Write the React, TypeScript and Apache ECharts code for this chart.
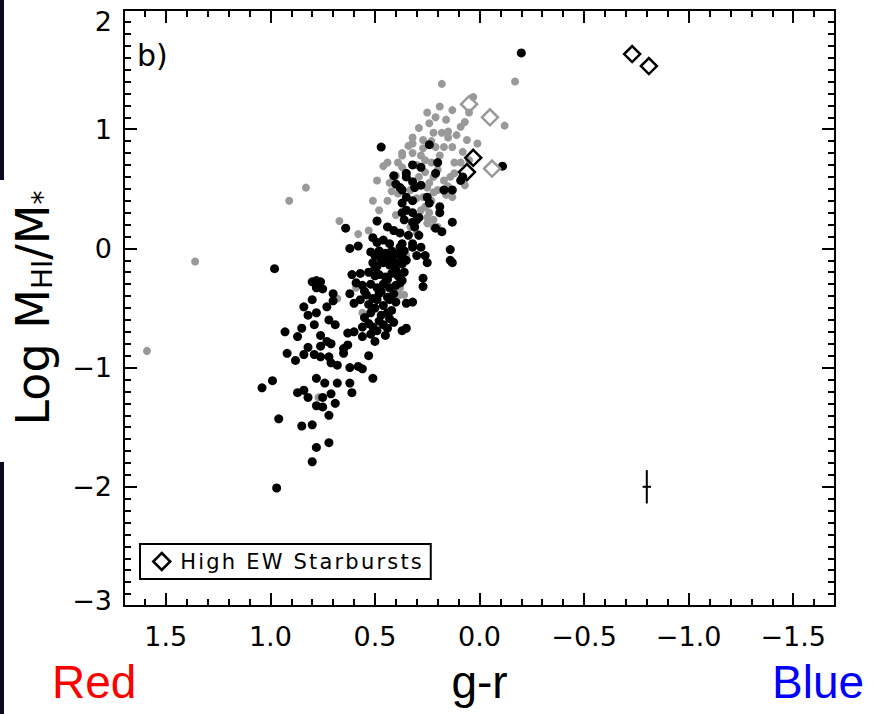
import React, { useEffect, useRef } from 'react';
import * as echarts from 'echarts';

const FONT = "'DejaVu Sans', Verdana, sans-serif";
const FONT2 = "'Liberation Sans', Arial, sans-serif";

// axis ranges (g-r runs red -> blue, so the axis is inverted)
const xMin = -1.7;
const xMax = 1.7;
const yMin = -3;
const yMax = 2;

// [g-r, log MHI/M*] : grey sample
const grayPoints: number[][] = [
  [1.59, -0.86], [1.36, -0.11], [0.91, 0.40], [0.83, 0.51], [0.67, 0.23], [0.49, 0.57], [0.51, 0.40],
  [0.44, 0.72], [0.44, 0.40], [0.53, 0.15], [0.43, 0.55], [0.39, 0.72], [0.37, 0.78], [0.32, 0.93],
  [0.32, 0.88], [0.27, 0.84], [0.25, 1.14], [0.24, 1.05], [0.21, 1.10], [0.19, 1.19], [0.18, 1.38],
  [0.22, 0.97], [0.18, 0.97], [0.15, 0.98], [0.15, 0.93], [0.21, 0.85], [0.17, 0.85], [0.13, 0.85],
  [0.09, 1.02], [0.07, 1.06], [0.05, 1.14], [0.03, 1.27], [0.01, 0.88], [-0.12, 1.03], [-0.17, 1.40],
  [0.08, 0.81], [0.37, 0.80], [0.32, 0.80], [0.26, 0.74], [0.23, 0.72], [0.26, 0.64], [0.22, 0.60],
  [0.17, 0.57], [0.14, 0.60], [0.09, 0.72], [0.07, 0.53], [0.09, 0.57], [0.25, 0.51], [0.22, 0.47],
  [0.23, 0.40], [0.16, 0.45], [0.13, 0.43], [0.26, 0.35], [0.24, 0.30], [0.25, 0.21], [0.22, 0.18],
  [0.37, 0.68], [0.35, 0.63], [0.38, -0.39], [0.36, -0.39], [0.59, -0.33], [0.68, -0.42], [0.38, -0.33],
  [0.56, -0.54], [0.77, -1.25], [0.35, -0.06], [0.39, 0.46], [0.33, 0.49], [0.29, 0.60], [0.27, 0.43],
  [0.28, 0.32], [0.25, 0.26], [0.20, 0.49], [0.33, 0.18], [0.30, 0.13], [0.22, 0.24], [0.20, 0.18],
  [0.27, 0.91], [0.16, 1.08], [0.29, 1.01], [0.13, 1.16], [0.40, 0.61], [0.46, 0.69], [0.48, 0.32],
  [0.40, 0.28], [0.58, 0.12], [0.12, 0.72], [0.05, 0.74], [0.06, 0.91], [0.59, -0.28],
  [0.30, 0.70], [0.28, 0.78], [0.34, 0.86], [0.23, 0.90], [0.19, 0.78], [0.12, 0.63], [0.15, 0.52],
  [0.30, 0.42], [0.42, 0.48], [0.20, 0.66], [0.11, 0.95], [0.24, 0.55],
];

// [g-r, log MHI/M*] : black sample
const blackPoints: number[][] = [
  [0.98, -0.17], [1.04, -1.17], [0.99, -1.11], [0.96, -1.43], [0.97, -2.01], [0.93, -0.70], [0.92, -0.88],
  [0.88, -0.94], [0.87, -0.74], [0.87, -1.21], [0.85, -1.49], [0.85, -0.67], [0.84, -0.89], [0.84, -0.49],
  [0.84, -1.19], [0.82, -0.56], [0.82, -1.25], [0.82, -0.83], [0.80, -0.43], [0.80, -1.48], [0.80, -1.79],
  [0.80, -0.28], [0.79, -0.64], [0.78, -0.54], [0.78, -1.32], [0.78, -1.67], [0.78, -1.09], [0.76, -0.28],
  [0.76, -0.82], [0.75, -1.33], [0.75, -0.34], [0.74, -1.13], [0.73, -0.49], [0.73, -0.78], [0.72, -0.60],
  [0.72, -1.40], [0.72, -1.63], [0.71, -0.80], [0.70, -0.38], [0.70, -0.44], [0.69, -0.64], [0.69, -1.30],
  [0.68, -1.13], [0.62, -1.13], [0.61, -1.21], [0.62, -1.00], [0.58, -0.99], [0.56, -1.01], [0.53, -0.90],
  [0.51, -1.09], [0.76, -0.73], [0.68, -0.98], [0.72, -0.91], [0.71, -0.96], [0.76, -0.91], [0.79, -0.89],
  [0.75, -1.25], [0.71, -1.22], [0.65, -0.88], [0.63, -0.81], [0.65, -0.84], [0.63, -0.71], [0.60, -0.70],
  [0.56, -0.74], [0.60, -0.46], [0.57, -0.43], [0.62, -0.38], [0.61, -0.22], [0.57, -0.21], [0.59, -0.29],
  [0.56, -0.31], [0.51, -0.42], [0.49, -0.43], [0.52, -0.54], [0.53, -0.63], [0.51, -0.66], [0.49, -0.69],
  [0.56, -0.66], [0.78, -0.27], [0.78, -0.33],
  [0.52, -0.03], [0.50, -0.06], [0.48, -0.02], [0.45, -0.04], [0.42, -0.02], [0.39, -0.05], [0.36, -0.02],
  [0.51, -0.12], [0.49, -0.15], [0.46, -0.12], [0.43, -0.14], [0.40, -0.12], [0.37, -0.13], [0.53, -0.20],
  [0.50, -0.23], [0.48, -0.22], [0.45, -0.24], [0.42, -0.21], [0.39, -0.23], [0.36, -0.20], [0.52, -0.30],
  [0.49, -0.33], [0.46, -0.30], [0.43, -0.33], [0.40, -0.31], [0.38, -0.29], [0.54, -0.39], [0.48, -0.38],
  [0.44, -0.41], [0.41, -0.38], [0.46, -0.48], [0.43, -0.43], [0.40, -0.45], [0.44, -0.54], [0.48, -0.61],
  [0.43, -0.59], [0.44, -0.67], [0.37, -0.69], [0.35, -0.67], [0.35, -0.46], [0.32, -0.45],
  [0.55, -0.36], [0.53, -0.47], [0.55, -0.58], [0.50, -0.50], [0.47, -0.56], [0.46, -0.64], [0.42, -0.52],
  [0.41, -0.62], [0.45, -0.73], [0.50, -0.78], [0.52, -0.72], [0.47, -0.36], [0.44, -0.26], [0.40, -0.18],
  [0.47, -0.09], [0.42, -0.08], [0.50, -0.16],
  [0.24, 0.87], [0.20, 0.72], [0.32, 0.70], [0.28, 0.68], [0.21, 0.63], [0.35, 0.60], [0.38, 0.51],
  [0.32, 0.56], [0.31, 0.51], [0.28, 0.53], [0.17, 0.49], [0.13, 0.49], [0.09, 0.57], [-0.11, 0.69],
  [0.08, 0.60], [0.35, 0.43], [0.32, 0.40], [0.37, 0.38], [0.25, 0.43], [0.24, 0.38], [0.19, 0.35],
  [0.19, 0.30], [0.35, 0.32], [0.32, 0.30], [0.29, 0.26], [0.36, 0.24], [0.32, 0.22], [0.31, 0.18],
  [0.13, 0.22], [0.21, 0.17], [0.18, 0.14], [0.38, 0.13], [0.34, 0.11], [0.29, 0.11], [0.32, 0.01],
  [0.37, 0.04], [0.14, -0.01], [0.14, -0.10], [0.13, -0.12], [0.30, -0.06], [0.26, -0.06], [0.25, -0.12],
  [0.37, -0.07], [0.35, -0.10], [0.27, -0.25], [0.27, -0.32], [0.37, -0.27], [0.47, 0.85], [0.41, 0.61],
  [0.40, 0.54], [0.35, 0.63], [0.37, 0.49], [0.37, 0.30], [0.30, 0.24], [0.49, 0.23], [0.64, 0.17],
  [0.62, 0.00], [0.58, 0.02], [0.51, 0.09], [0.49, 0.05], [0.44, 0.18], [0.41, 0.15], [0.46, 0.07],
  [0.43, 0.04], [0.44, -0.07], [0.38, 0.01], [0.32, 0.04], [0.28, 0.01], [-0.20, 1.64],
];

// High EW starbursts
const grayDiamonds: number[][] = [[0.05, 1.21], [-0.05, 1.10], [-0.06, 0.67]];
const blackDiamonds: number[][] = [[-0.73, 1.63], [-0.81, 1.53], [0.03, 0.76], [0.06, 0.64]];

// typical error bar: [x, y, xErr, yErr]
const errorBar: number[][] = [[-0.8, -2.0, 0.02, 0.14]];

const legendLabel = 'High EW Starbursts';
const panelLabel = 'b)';
const xTitle = 'g-r';
const redLabel = 'Red';
const blueLabel = 'Blue';

function fmt(v: number, digits: number): string {
  const s = Math.abs(v).toFixed(digits);
  return v < -1e-9 ? '\u2212' + s : s;
}

export default function App() {
  const ref = useRef<HTMLDivElement>(null);

  useEffect(() => {
    document.body.style.margin = '0';
    const chart = echarts.init(ref.current as HTMLDivElement, null, { renderer: 'svg', width: 883, height: 714 });

    const line = { color: '#000', width: 2 };
    const axisBase = (extra: any) => ({
      type: 'value',
      axisLine: { show: true, onZero: false, lineStyle: line },
      axisTick: { show: true, inside: true, length: 13, lineStyle: line },
      minorTick: { show: true, length: 7, lineStyle: line },
      splitLine: { show: false },
      minorSplitLine: { show: false },
      ...extra,
    });

    const xCommon = {
      min: xMin,
      max: xMax,
      inverse: true,
      splitNumber: 7,
    };

    const tickFont = { fontSize: 27, fontFamily: FONT, color: '#000' };

    const option: any = {
      animation: false,
      backgroundColor: '#fff',
      grid: { left: 124, right: 48, top: 10, bottom: 108, containLabel: false, outerBoundsMode: 'none' },
      xAxis: [
        axisBase({
          ...xCommon,
          position: 'bottom',
          minorTick: { show: true, splitNumber: 5, length: 7, lineStyle: line },
          axisLabel: {
            show: true,
            margin: 17,
            ...tickFont,
            showMinLabel: false,
            showMaxLabel: false,
            formatter: (v: number) => fmt(v, 1),
          },
          name: xTitle,
          nameLocation: 'middle',
          nameGap: 53,
          nameTextStyle: { fontSize: 46, color: '#000', fontFamily: FONT2 },
        }),
        axisBase({
          ...xCommon,
          position: 'top',
          minorTick: { show: true, splitNumber: 5, length: 7, lineStyle: line },
          axisLabel: { show: false },
        }),
      ],
      yAxis: [
        axisBase({
          min: yMin,
          max: yMax,
          interval: 1,
          position: 'left',
          minorTick: { show: true, splitNumber: 10, length: 7, lineStyle: line },
          axisLabel: {
            show: true,
            margin: 12,
            ...tickFont,
            formatter: (v: number) => {
              if (v >= yMax) return '{t|' + fmt(v, 0) + '}';
              if (v <= yMin) return '{b|' + fmt(v, 0) + '}';
              return fmt(v, 0);
            },
            rich: {
              t: { ...tickFont, padding: [22, 0, 0, 0] },
              b: { ...tickFont, padding: [0, 0, 12, 0] },
            },
          },
          name: '{m|Log M}{s|HI}{m|/M}{s|*}',
          nameLocation: 'middle',
          nameRotate: 90,
          nameGap: 68,
          nameTextStyle: {
            color: '#000',
            rich: {
              m: { fontSize: 46, fontFamily: FONT, color: '#000' },
              s: { fontSize: 28, fontFamily: FONT, color: '#000', verticalAlign: 'bottom' },
            },
          },
        }),
        axisBase({
          min: yMin,
          max: yMax,
          interval: 1,
          position: 'right',
          minorTick: { show: true, splitNumber: 10, length: 7, lineStyle: line },
          axisLabel: { show: false },
        }),
      ],
      legend: {
        show: true,
        left: 140,
        top: 544,
        orient: 'horizontal',
        data: [legendLabel],
        selectedMode: false,
        itemWidth: 17,
        itemHeight: 17,
        padding: [7, 9, 7, 12],
        borderColor: '#000',
        borderWidth: 2,
        borderRadius: 0,
        backgroundColor: '#fff',
        icon: 'diamond',
        itemStyle: { color: 'rgba(0,0,0,0)', borderColor: '#000', borderWidth: 2.5 },
        formatter: (name: string) =>
          name
            .split('')
            .map((ch, i) => `{${i === 0 ? 'f' : 'c'}|${ch}}`)
            .join(''),
        textStyle: {
          color: '#000',
          fontSize: 21,
          fontFamily: FONT,
          rich: {
            f: { fontSize: 21, fontFamily: FONT, color: '#000', padding: [0, 1.1, 0, 5] },
            c: { fontSize: 21, fontFamily: FONT, color: '#000', padding: [0, 1.1, 0, 1.1] },
          },
        },
      },
      graphic: [
        { type: 'rect', left: 0, top: 0, shape: { width: 4, height: 180 }, style: { fill: '#0a0b1f' }, silent: true },
        { type: 'rect', left: 0, top: 462, shape: { width: 4, height: 252 }, style: { fill: '#0a0b1f' }, silent: true },
        {
          type: 'text',
          left: 137,
          top: 40,
          style: { text: panelLabel, fontSize: 30, fontFamily: FONT, fill: '#000' },
          silent: true,
        },
        {
          type: 'text',
          left: 52,
          top: 659,
          style: { text: redLabel, fontSize: 46, fontFamily: FONT2, fill: '#ff0000' },
          silent: true,
        },
        {
          type: 'text',
          left: 772,
          top: 659,
          style: { text: blueLabel, fontSize: 46, fontFamily: FONT2, fill: '#0000ff' },
          silent: true,
        },
      ],
      series: [
        {
          name: 'grey',
          type: 'scatter',
          data: grayPoints,
          symbol: 'circle',
          symbolSize: 8,
          itemStyle: { color: '#999999', opacity: 1 },
          silent: true,
          z: 2,
        },
        {
          name: 'black',
          type: 'scatter',
          data: blackPoints,
          symbol: 'circle',
          symbolSize: 9,
          itemStyle: { color: '#000000', opacity: 1 },
          silent: true,
          z: 3,
        },
        {
          name: 'grey starbursts',
          type: 'scatter',
          data: grayDiamonds,
          symbol: 'diamond',
          symbolSize: 16,
          itemStyle: { color: 'rgba(0,0,0,0)', borderColor: '#999999', borderWidth: 2.5, opacity: 1 },
          silent: true,
          z: 4,
        },
        {
          name: legendLabel,
          type: 'scatter',
          data: blackDiamonds,
          symbol: 'diamond',
          symbolSize: 16,
          itemStyle: { color: 'rgba(0,0,0,0)', borderColor: '#000000', borderWidth: 2.5, opacity: 1 },
          silent: true,
          z: 5,
        },
        {
          name: 'error',
          type: 'custom',
          data: errorBar,
          encode: { x: 0, y: 1 },
          silent: true,
          clip: false,
          z: 5,
          renderItem: (_params: any, api: any) => {
            const x = api.value(0);
            const y = api.value(1);
            const ex = api.value(2);
            const ey = api.value(3);
            const top = api.coord([x, y + ey]);
            const bot = api.coord([x, y - ey]);
            const l = api.coord([x + ex, y]);
            const r = api.coord([x - ex, y]);
            return {
              type: 'group',
              children: [
                { type: 'line', shape: { x1: top[0], y1: top[1], x2: bot[0], y2: bot[1] }, style: { stroke: '#000', lineWidth: 2 } },
                { type: 'line', shape: { x1: l[0], y1: l[1], x2: r[0], y2: r[1] }, style: { stroke: '#000', lineWidth: 2 } },
              ],
            };
          },
        },
      ],
    };

    chart.setOption(option);
    return () => chart.dispose();
  }, []);

  return <div ref={ref} style={{ width: 883, height: 714, position: 'absolute', left: 0, top: 0, background: '#fff' }} />;
}
